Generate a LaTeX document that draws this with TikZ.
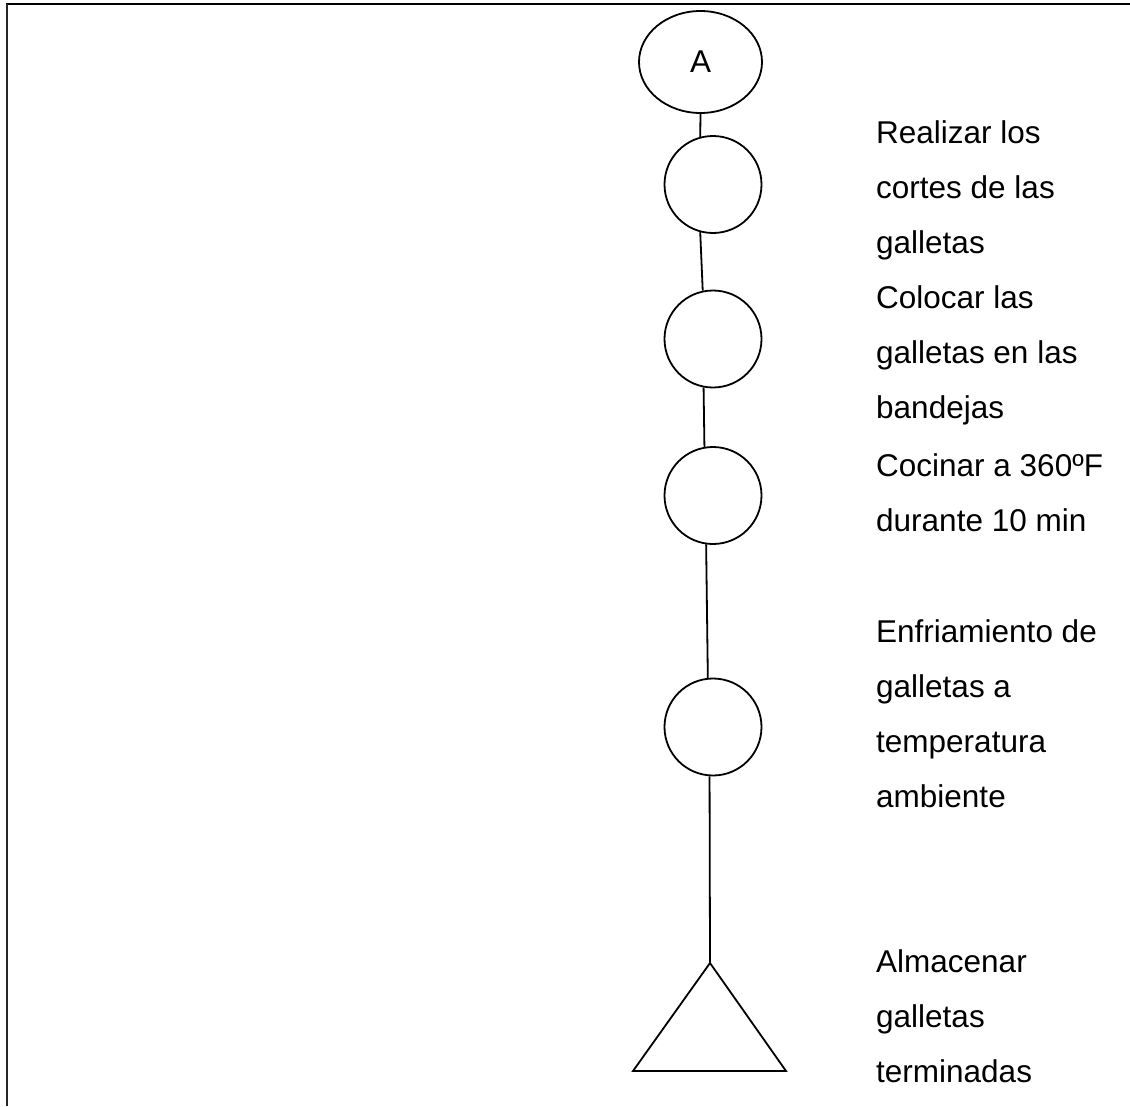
\documentclass[tikz,border=0pt]{standalone}
\usepackage{fontspec}
\setmainfont{Liberation Sans}
\usetikzlibrary{shapes.geometric}

\tikzset{
  flow/.style={line width=1.8pt},
  opcircle/.style={circle, draw, flow, minimum size=97pt, inner sep=0pt},
  connector/.style={ellipse, draw, flow, minimum width=123pt, minimum height=102pt, inner sep=0pt,
                    font=\fontsize{31.5}{36}\selectfont},
  % multi-line nodes: the base anchor sits on the last line
  steptext/.style={anchor=base west, align=left, inner sep=0pt,
                   font=\fontsize{31.5}{55}\selectfont},
}

\begin{document}
\begin{tikzpicture}[x=1pt, y=-1pt]
  % page frame
  \useasboundingbox (0,0) rectangle (1130,1106);
  \draw[line width=2.4pt] (6,4) -- (1130,4);
  \draw[line width=2pt, black!85] (6.5,4) -- (6.5,1106);

  % off-page connector and operation steps
  \node[connector] (A) at (700.5,62) {A};
  \node[opcircle] (c1) at (713,184.5) {};
  \node[opcircle] (c2) at (713,339) {};
  \node[opcircle] (c3) at (713,495.5) {};
  \node[opcircle] (c4) at (713,727) {};

  % storage triangle
  \coordinate (T) at (710,963);
  \coordinate (TL) at (633,1071);
  \coordinate (TR) at (786,1071);
  \draw[flow, line join=miter] (T) -- (TL) -- (TR) -- cycle;

  % flow line
  \draw[flow] (A.south) -- (c1.105);
  \draw[flow] (c1.255) -- (c2.102);
  \draw[flow] (c2.259) -- (c3.100);
  \draw[flow] (c3.262) -- (c4.96);
  \draw[flow] (c4.266) -- (T);

  % step descriptions (positioned by the baseline of their last line)
  \node[steptext] (t1) at (876,253) {Realizar los\\cortes de las\\galletas};
  \node[steptext] (t2) at (876,418) {Colocar las\\galletas en las\\bandejas};
  \node[steptext] (t3) at (876,531) {Cocinar a 360ºF\\durante 10 min};
  \node[steptext] (t4) at (876,807) {Enfriamiento de\\galletas a\\temperatura\\ambiente};
  \node[steptext] (t5) at (876,1082) {Almacenar\\galletas\\terminadas};
\end{tikzpicture}
\end{document}
